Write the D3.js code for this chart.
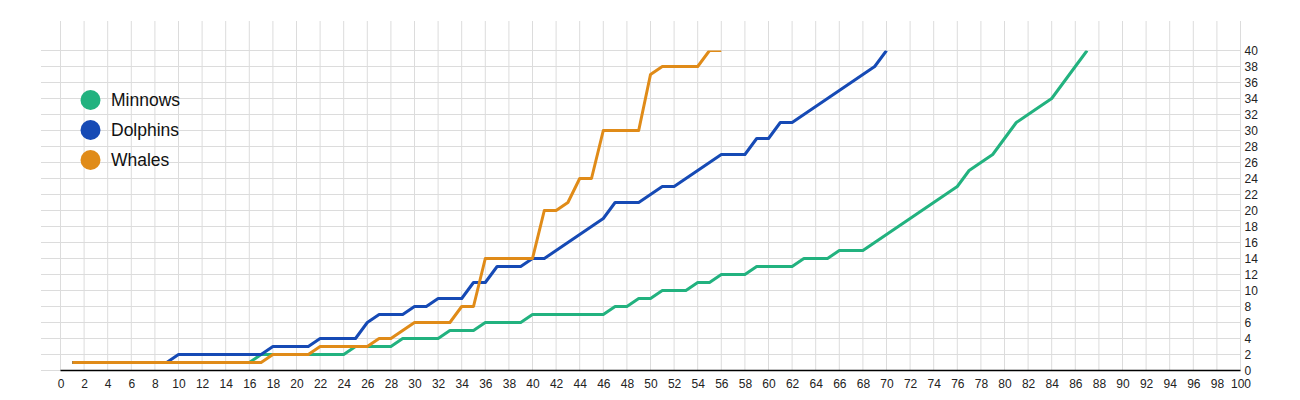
<!DOCTYPE html>
<html>
<head>
<meta charset="utf-8">
<script src="https://cdn.jsdelivr.net/npm/d3@7"></script>
<style>
  html, body { margin: 0; padding: 0; background: #fff; }
  svg { display: block; font-family: "Liberation Sans", Arial, sans-serif; }
</style>
</head>
<body>
<svg id="chart" width="1300" height="400"></svg>
<script>
// ---- Data (x starts at 1 for every series) ----
const seriesNames = ["Minnows", "Dolphins", "Whales"];
const minnows = [1,1,1,1,1,1,1,1,1,1,1,1,1,1,1,1,
  2,2,2,2,2,2,2,2,
  3,3,3,3,
  4,4,4,4,
  5,5,5,
  6,6,6,6,
  7,7,7,7,7,7,7,
  8,8,
  9,9,
  10,10,10,
  11,11,
  12,12,12,
  13,13,13,13,
  14,14,14,
  15,15,15,
  16,17,18,19,20,21,22,23,
  25,26,27,29,31,32,33,34,36,38,40];
const dolphins = [1,1,1,1,1,1,1,1,1,
  2,2,2,2,2,2,2,2,
  3,3,3,3,
  4,4,4,4,
  6,
  7,7,7,
  8,8,
  9,9,9,
  11,11,
  13,13,13,
  14,14,
  15,16,17,18,19,
  21,21,21,
  22,
  23,23,
  24,25,26,
  27,27,27,
  29,29,
  31,31,
  32,33,34,35,36,37,38,
  40];
const whales = [1,1,1,1,1,1,1,1,1,1,1,1,1,1,1,1,1,
  2,2,2,2,
  3,3,3,3,3,
  4,4,
  5,
  6,6,6,6,
  8,8,
  14,14,14,14,14,
  20,20,
  21,
  24,24,
  30,30,30,30,
  37,
  38,38,38,38,
  40,40];
const xTicks = d3.range(0, 101, 2);
const yTicks = d3.range(0, 41, 2);
const colors = ["#22b27f", "#164ab5", "#e08b18"];

const allSeries = [minnows, dolphins, whales].map((vals, i) => ({
  name: seriesNames[i],
  color: colors[i],
  points: vals.map((v, j) => ({ x: j + 1, y: v }))
}));

// ---- Layout ----
const svg = d3.select("#chart");
const x = d3.scaleLinear().domain([0, 100]).range([60.5, 1240.5]);
const y = d3.scaleLinear().domain([0, 40]).range([370.5, 50.5]);
const gridTop = 21, gridLeft = 41;

// grid
const grid = svg.append("g").attr("stroke", "#dcdcdc").attr("stroke-width", 1);
grid.selectAll("line.v").data(xTicks).join("line")
  .attr("class", "v")
  .attr("x1", d => x(d)).attr("x2", d => x(d))
  .attr("y1", gridTop).attr("y2", y(0));
grid.selectAll("line.h").data(yTicks).join("line")
  .attr("class", "h")
  .attr("x1", gridLeft).attr("x2", x(100))
  .attr("y1", d => y(d)).attr("y2", d => y(d));

// x axis baseline
svg.append("line")
  .attr("x1", x(0)).attr("x2", x(100))
  .attr("y1", y(0)).attr("y2", y(0))
  .attr("stroke", "#000").attr("stroke-width", 1.3);

// x tick labels
const xAxis = d3.axisBottom(x).tickValues(xTicks).tickSize(0).tickPadding(9).tickFormat(d3.format("d"));
const gx = svg.append("g").attr("transform", `translate(0,${y(0)})`).call(xAxis);
gx.select(".domain").remove();
gx.selectAll("text").attr("font-size", 12).attr("fill", "#222")
  .attr("font-family", "Liberation Sans, Arial, sans-serif");

// y tick labels (right)
const yAxis = d3.axisRight(y).tickValues(yTicks).tickSize(0).tickPadding(4).tickFormat(d3.format("d"));
const gy = svg.append("g").attr("transform", `translate(${x(100)},0)`).call(yAxis);
gy.select(".domain").remove();
gy.selectAll("text").attr("font-size", 12).attr("fill", "#222")
  .attr("font-family", "Liberation Sans, Arial, sans-serif");

// clip
svg.append("clipPath").attr("id", "plotclip")
  .append("rect").attr("x", x(0)).attr("y", y(40)).attr("width", x(100) - x(0)).attr("height", y(0) - y(40));

const line = d3.line().x(d => x(d.x)).y(d => y(d.y));
svg.append("g").attr("clip-path", "url(#plotclip)")
  .selectAll("path").data(allSeries).join("path")
  .attr("d", d => line(d.points))
  .attr("fill", "none")
  .attr("stroke", d => d.color)
  .attr("stroke-width", 3)
  .attr("stroke-linejoin", "round");

// legend
const legend = svg.append("g");
const lg = legend.selectAll("g").data(allSeries).join("g")
  .attr("transform", (d, i) => `translate(90.5,${100 + i * 30})`);
lg.append("circle").attr("r", 10).attr("fill", d => d.color);
lg.append("text").attr("x", 20.5).attr("dy", "0.35em")
  .attr("font-size", 17.5).attr("fill", "#111")
  .text(d => d.name);
</script>
</body>
</html>
